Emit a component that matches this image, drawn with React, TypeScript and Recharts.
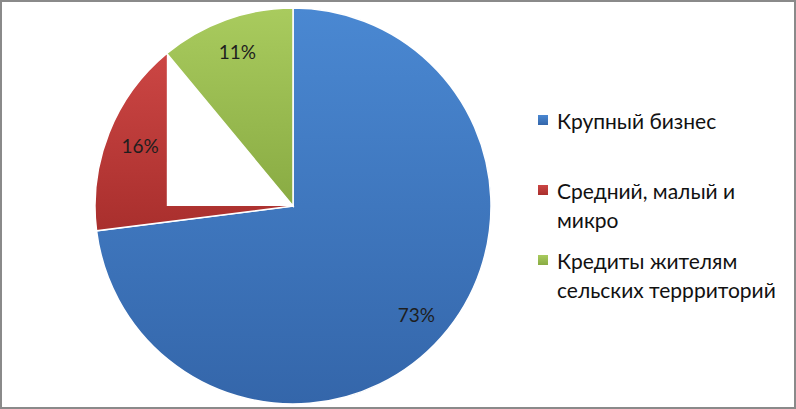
import { Cell, Legend, Pie, PieChart, Sector } from 'recharts'

const categories = ['Крупный бизнес', 'Средний, малый и микро', 'Кредиты жителям сельских террриторий']
const shares = [73, 16, 11]
const gradients = [
  ['#4a88d2', '#3466aa'],
  ['#cc4644', '#a92f2d'],
  ['#a9cb5e', '#89ab43'],
]

const data = categories.map((name, i) => ({ name, value: shares[i] }))

const RAD = Math.PI / 180
const FONT = 'Lato, "Open Sans", sans-serif'

function renderLabel(props: any) {
  const { cx, cy, midAngle, outerRadius, value } = props
  const r = outerRadius * 0.83
  const x = cx + r * Math.cos(-midAngle * RAD)
  const y = cy + r * Math.sin(-midAngle * RAD)
  return (
    <text x={x} y={y} textAnchor="middle" dominantBaseline="central" fill="#1e1e1e" fontSize={19} fontFamily={FONT}>
      {`${value}%`}
    </text>
  )
}

// Excel's 3D render leaves a white right triangle inside the red slice
function renderSector(props: any) {
  const { cx, cy, outerRadius, endAngle, index } = props
  if (index !== 1) return <Sector {...props} />
  const px = cx + outerRadius * Math.cos(-endAngle * RAD)
  const py = cy + outerRadius * Math.sin(-endAngle * RAD)
  return (
    <g>
      <Sector {...props} />
      <polygon points={`${cx},${cy} ${px},${py} ${px},${cy}`} fill="#ffffff" />
    </g>
  )
}

function LegendBox() {
  return (
    <div style={{ fontFamily: FONT, fontSize: 21, lineHeight: '29px', color: '#111', width: 250 }}>
      {categories.map((name, i) => (
        <div key={name} style={{ display: 'flex', alignItems: 'flex-start', minHeight: 70 }}>
          <span
            style={{
              width: 10,
              height: 10,
              marginTop: 9,
              marginRight: 9,
              flexShrink: 0,
              background: `linear-gradient(${gradients[i][0]}, ${gradients[i][1]})`,
            }}
          />
          <span style={{ width: 222 }}>{name}</span>
        </div>
      ))}
    </div>
  )
}

export default function App() {
  return (
    <div style={{ position: 'relative', width: 796, height: 409, background: '#fff' }}>
      <style>{'body{margin:0}'}</style>
      <PieChart width={796} height={409} margin={{ top: 0, right: 0, bottom: 0, left: 0 }}>
        <defs>
          {gradients.map((g, i) => (
            <linearGradient key={i} id={`grad${i}`} x1="0" y1="0" x2="0" y2="1">
              <stop offset="0%" stopColor={g[0]} />
              <stop offset="100%" stopColor={g[1]} />
            </linearGradient>
          ))}
        </defs>
        <Pie
          data={data}
          dataKey="value"
          nameKey="name"
          cx={293}
          cy={206}
          outerRadius={198}
          startAngle={90}
          endAngle={-270}
          stroke="#ffffff"
          strokeWidth={1.5}
          label={renderLabel}
          labelLine={false}
          shape={renderSector}
          isAnimationActive={false}
        >
          {data.map((d, i) => (
            <Cell key={d.name} fill={`url(#grad${i})`} />
          ))}
        </Pie>
        <Legend
          layout="vertical"
          content={<LegendBox />}
          wrapperStyle={{ position: 'absolute', left: 538, top: 106, width: 250 }}
        />
      </PieChart>
      <div
        style={{
          position: 'absolute',
          inset: 0,
          border: '2px solid #8a8a8a',
          pointerEvents: 'none',
        }}
      />
    </div>
  )
}
